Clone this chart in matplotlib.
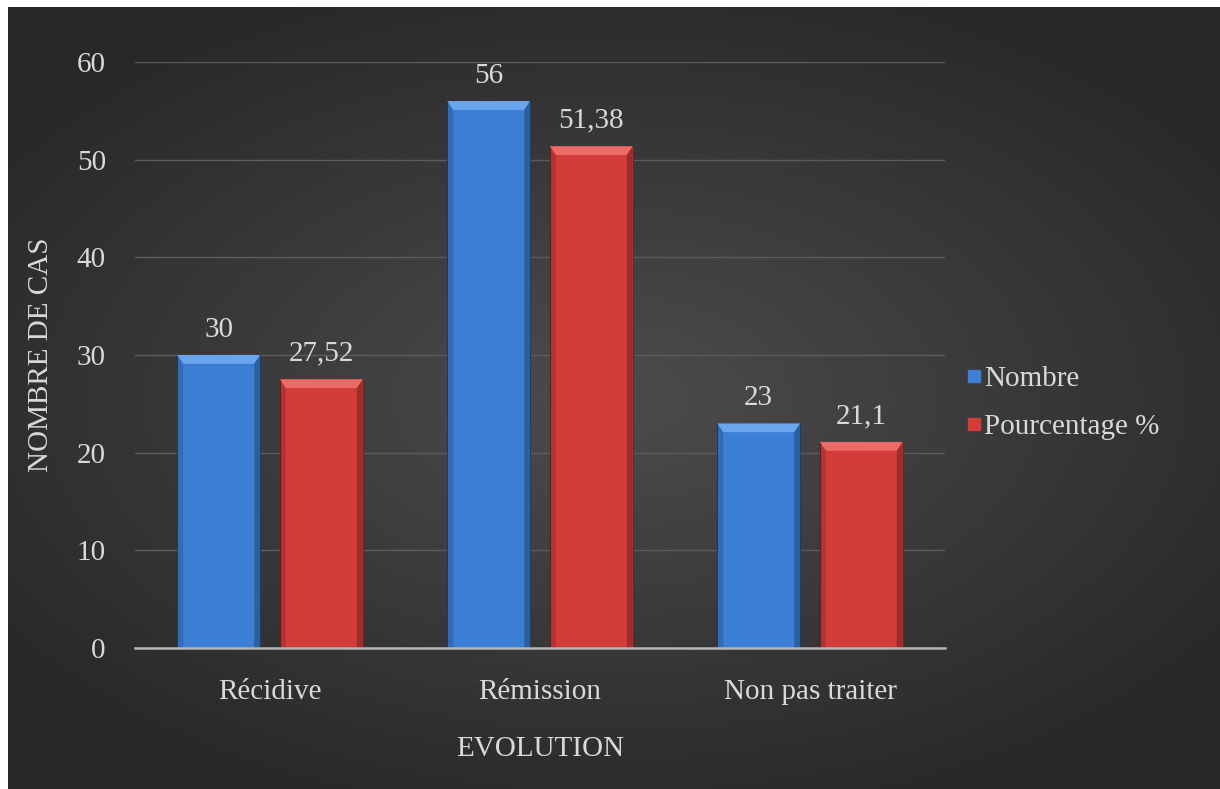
import numpy as np
import matplotlib.pyplot as plt
from matplotlib.patches import Polygon
from matplotlib.lines import Line2D

categories = ['Récidive', 'Rémission', 'Non pas traiter']
nombre = [30, 56, 23]
pourcentage = [27.52, 51.38, 21.1]
nombre_labels = ['30', '56', '23']
pourcentage_labels = ['27,52', '51,38', '21,1']
yticks = [0, 10, 20, 30, 40, 50, 60]

plt.rcParams['font.family'] = ['Liberation Serif', 'DejaVu Serif']
txt = '#d9d9d9'

fig = plt.figure(figsize=(12.2, 7.89), dpi=100)
fig.patch.set_facecolor('white')

# dark radial gradient backdrop
bg = fig.add_axes([8 / 1220, 0, 1212 / 1220, 782 / 789])
yy, xx = np.mgrid[-1:1:400j, -1:1:600j]
r = np.sqrt((xx * 0.95) ** 2 + (yy * 1.05) ** 2)
shade = np.clip(0.30 - 0.12 * r, 0.16, 0.30)
bg.imshow(np.dstack([shade] * 3), aspect='auto', extent=[0, 1, 0, 1])
bg.set_axis_off()

ax = fig.add_axes([135 / 1220, 141 / 789, 810 / 1220, 586 / 789])
ax.patch.set_alpha(0)

x = np.arange(len(categories))
w = 0.307
off = 0.19
blue, red = '#3c7fd4', '#d23d3a'
blue_top, red_top = '#6aa6ee', '#ec6b66'

def bevel_bars(xs, vals, color, top_color):
    bars = ax.bar(xs, vals, width=w, color=color, edgecolor='#1f3a5f' if color == blue else '#6a1f1d',
                  linewidth=0.6, zorder=3)
    for b in bars:
        x0, x1, h = b.get_x(), b.get_x() + b.get_width(), b.get_height()
        d = 0.9
        ax.add_patch(Polygon([(x0, h), (x1, h), (x1 - 0.022, h - d), (x0 + 0.022, h - d)],
                             closed=True, color=top_color, zorder=4, lw=0))
        ax.add_patch(Polygon([(x0, h), (x0 + 0.022, h - d), (x0 + 0.022, 0), (x0, 0)],
                             closed=True, color='black', alpha=0.15, zorder=4, lw=0))
        ax.add_patch(Polygon([(x1, h), (x1 - 0.022, h - d), (x1 - 0.022, 0), (x1, 0)],
                             closed=True, color='black', alpha=0.25, zorder=4, lw=0))
    return bars

b1 = bevel_bars(x - off, nombre, blue, blue_top)
b2 = bevel_bars(x + off, pourcentage, red, red_top)

for bars, labels in ((b1, nombre_labels), (b2, pourcentage_labels)):
    for b, lab in zip(bars, labels):
        ax.annotate(lab, (b.get_x() + b.get_width() / 2, b.get_height()),
                    xytext=(0, 9), textcoords='offset points', ha='center', va='bottom',
                    color=txt, fontsize=21)

ax.set_xlim(-0.5, 2.5)
ax.set_ylim(0, 60)
ax.set_yticks(yticks)
ax.set_xticks(x)
ax.set_xticklabels(categories)
ax.tick_params(axis='both', length=0, colors=txt, labelsize=21)
ax.tick_params(axis='y', pad=21)
ax.tick_params(axis='x', pad=22)
ax.yaxis.grid(True, color='#5c5c5c', linewidth=1, zorder=0)
ax.set_axisbelow(True)
for s in ['top', 'right', 'left']:
    ax.spines[s].set_visible(False)
ax.spines['bottom'].set_color('#b5b5b5')
ax.spines['bottom'].set_linewidth(1.8)
ax.spines['bottom'].set_zorder(5)

ax.set_ylabel('NOMBRE DE CAS', color=txt, fontsize=21, labelpad=16)
ax.set_xlabel('EVOLUTION', color=txt, fontsize=21, labelpad=23)

handles = [Line2D([], [], marker='s', ls='', markersize=8, markerfacecolor=blue, markeredgecolor=blue),
           Line2D([], [], marker='s', ls='', markersize=8, markerfacecolor=red, markeredgecolor=red)]
leg = fig.legend(handles, ['Nombre', 'Pourcentage %'], loc='center left',
                 bbox_to_anchor=(955 / 1220, 1 - 403 / 789), frameon=False, fontsize=21,
                 handlelength=0.5, handletextpad=0.1, labelspacing=0.75, labelcolor=txt,
                 borderaxespad=0)

fig.savefig('out.png', dpi=100)
